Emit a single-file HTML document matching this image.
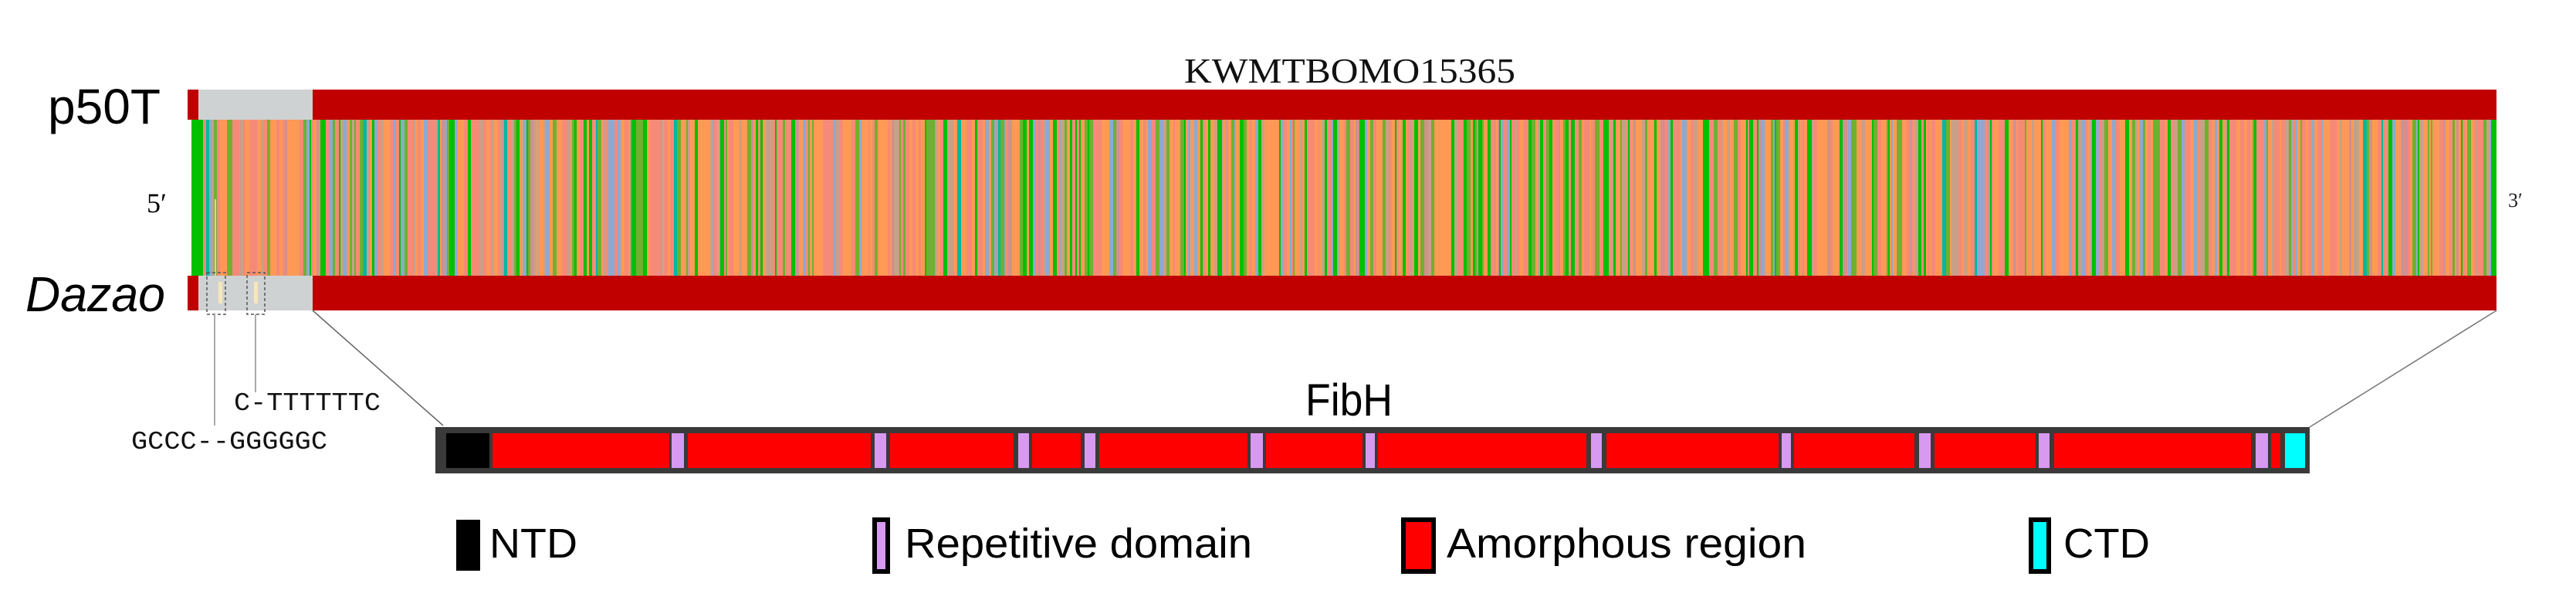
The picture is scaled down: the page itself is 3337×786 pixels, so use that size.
<!DOCTYPE html>
<html><head><meta charset="utf-8"><style>
html,body{margin:0;padding:0;background:#fff;}
svg{display:block;}
</style></head><body>
<svg id="s" width="3337" height="786" viewBox="0 0 3337 786" xmlns="http://www.w3.org/2000/svg">
<rect x="0" y="0" width="3337" height="786" fill="#fff"/>
<g id="seq"></g>
<rect x="243" y="116" width="2991" height="39" fill="#c00000"/>
<rect x="243" y="357" width="2991" height="45" fill="#c00000"/>
<rect x="257" y="116" width="148" height="39" fill="#cfd2d3"/>
<rect x="257" y="357" width="148" height="45" fill="#cfd2d3"/>
<rect x="283" y="365" width="5" height="28" fill="#f8e6b8"/>
<rect x="329" y="365" width="5" height="28" fill="#f8e6b8"/>
<rect x="278" y="258" width="2" height="99" fill="#f5c9a0"/>
<rect x="268" y="353" width="24" height="54" fill="none" stroke="#555" stroke-width="1.5" stroke-dasharray="4,3"/>
<rect x="320" y="353" width="23" height="54" fill="none" stroke="#555" stroke-width="1.5" stroke-dasharray="4,3"/>
<line x1="278" y1="407" x2="278" y2="551" stroke="#aaa" stroke-width="2"/>
<line x1="331" y1="407" x2="331" y2="508" stroke="#aaa" stroke-width="2"/>
<text x="62" y="160" font-family="Liberation Sans, sans-serif" font-size="64" textLength="146" lengthAdjust="spacingAndGlyphs" fill="#000">p50T</text>
<text x="33" y="403" font-family="Liberation Sans, sans-serif" font-size="64" font-style="italic" textLength="181" lengthAdjust="spacingAndGlyphs" fill="#000">Dazao</text>
<text x="190" y="275" font-family="Liberation Serif, serif" font-size="36" fill="#000">5′</text>
<text x="3249" y="268" font-family="Liberation Serif, serif" font-size="26" fill="#222">3′</text>
<text x="1534" y="107" font-family="Liberation Serif, serif" font-size="46" textLength="429" lengthAdjust="spacingAndGlyphs" fill="#111">KWMTBOMO15365</text>
<text x="303" y="531" font-family="Liberation Mono, monospace" font-size="33" textLength="190" lengthAdjust="spacingAndGlyphs" fill="#111">C-TTTTTTC</text>
<text x="170" y="581" font-family="Liberation Mono, monospace" font-size="33" textLength="254" lengthAdjust="spacingAndGlyphs" fill="#111">GCCC--GGGGGC</text>
<line x1="405" y1="402" x2="574" y2="551" stroke="#666" stroke-width="1.5"/>
<line x1="3234" y1="402" x2="2992" y2="553" stroke="#777" stroke-width="1.5"/>
<text x="1691" y="538" font-family="Liberation Sans, sans-serif" font-size="58" textLength="113" lengthAdjust="spacingAndGlyphs" fill="#000">FibH</text>
<rect x="564" y="553" width="2428" height="60" fill="#3a3a3a"/>
<g id="fib"></g>
<rect x="594" y="676" width="25" height="60" fill="#000" stroke="#000" stroke-width="6"/>
<text x="634" y="722" font-family="Liberation Sans, sans-serif" font-size="54" textLength="114" lengthAdjust="spacingAndGlyphs" fill="#000">NTD</text>
<rect x="1133" y="673" width="17" height="67" fill="#d899f0" stroke="#000" stroke-width="6"/>
<text x="1172" y="722" font-family="Liberation Sans, sans-serif" font-size="54" textLength="450" lengthAdjust="spacingAndGlyphs" fill="#000">Repetitive domain</text>
<rect x="1818" y="673" width="39" height="67" fill="#ff0000" stroke="#000" stroke-width="6"/>
<text x="1874" y="722" font-family="Liberation Sans, sans-serif" font-size="54" textLength="466" lengthAdjust="spacingAndGlyphs" fill="#000">Amorphous region</text>
<rect x="2631" y="673" width="23" height="67" fill="#00ffff" stroke="#000" stroke-width="6"/>
<text x="2673" y="722" font-family="Liberation Sans, sans-serif" font-size="54" textLength="112" lengthAdjust="spacingAndGlyphs" fill="#000">CTD</text>
</svg>
<script>
(function(){
var NS="http://www.w3.org/2000/svg";
var seq=document.getElementById("seq");
var seed=12345;function r(){seed=(seed*1103515245+12345)%2147483648;return seed/2147483648;}
function R(g,x,y,w,h,c){var e=document.createElementNS(NS,"rect");e.setAttribute("x",x);e.setAttribute("y",y);e.setAttribute("width",w);e.setAttribute("height",h);e.setAttribute("fill",c);g.appendChild(e);}
R(seq,248,155,2986,202,"#f59070");
var cols=[["#ff9955",30],["#f58a78",22],["#00c000",14],["#8fa8d0",9],["#70b030",10],["#c8a088",9],["#d09090",4],["#00b8a0",2]];
var tot=0;cols.forEach(function(c){tot+=c[1];});
function pick(){var v=r()*tot;for(var i=0;i<cols.length;i++){v-=cols[i][1];if(v<=0)return cols[i][0];}return cols[0][0];}
var x=248;
R(seq,248,155,15,202,"#00c000");x=263;
while(x<3234){var w=2+Math.floor(r()*4);if(x+w>3234)w=3234-x;R(seq,x,155,w,202,pick());x+=w;}
var fib=document.getElementById("fib");
var segs=[[578,634,"#000"],[638,867,"#ff0000"],[870,886,"#d899f0"],[891,1128,"#ff0000"],[1133,1148,"#d899f0"],[1153,1313,"#ff0000"],[1319,1333,"#d899f0"],[1337,1400,"#ff0000"],[1405,1419,"#d899f0"],[1424,1616,"#ff0000"],[1620,1636,"#d899f0"],[1640,1765,"#ff0000"],[1769,1781,"#d899f0"],[1785,2055,"#ff0000"],[2061,2075,"#d899f0"],[2081,2304,"#ff0000"],[2308,2320,"#d899f0"],[2324,2480,"#ff0000"],[2486,2501,"#d899f0"],[2506,2637,"#ff0000"],[2641,2655,"#d899f0"],[2661,2916,"#ff0000"],[2922,2938,"#d899f0"],[2942,2954,"#ff0000"],[2960,2986,"#00ffff"]];
segs.forEach(function(s){R(fib,s[0],561,s[1]-s[0],45,s[2]);});
})();
</script>
</body></html>
